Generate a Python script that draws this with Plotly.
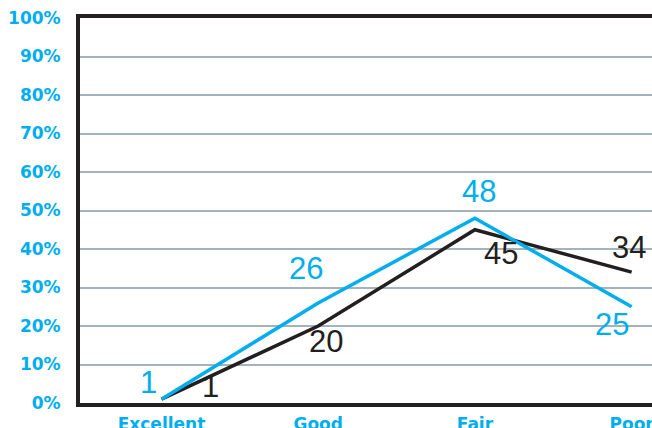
import plotly.graph_objects as go

categories = ["Excellent", "Good", "Fair", "Poor"]
series_blue = [1, 26, 48, 25]
series_black = [1, 20, 45, 34]
y_ticks = [0, 10, 20, 30, 40, 50, 60, 70, 80, 90, 100]
y_tick_labels = [f"{v}%" for v in y_ticks]

BLUE = "#00AEEF"
BLACK = "#231F20"
GRID = "#A3B2BD"
NUM_FONT = "Liberation Sans, Arial, sans-serif"
AX_FONT = "DejaVu Sans, Verdana, sans-serif"

fig = go.Figure()
fig.add_trace(go.Scatter(x=categories, y=series_black, mode="lines",
                         line=dict(color=BLACK, width=3.5), hoverinfo="skip"))
fig.add_trace(go.Scatter(x=categories, y=series_blue, mode="lines",
                         line=dict(color=BLUE, width=3.5), hoverinfo="skip"))

blue_shift = [(-13, 17), (-12, 34), (4, 27), (-20, -18)]
black_shift = [(49, 13), (8, -15), (26, -24), (-3, 25)]
for cat, v, (dx, dy) in zip(categories, series_blue, blue_shift):
    fig.add_annotation(x=cat, y=v, text=str(v), showarrow=False, xshift=dx, yshift=dy,
                       font=dict(family=NUM_FONT, size=31, color=BLUE))
for cat, v, (dx, dy) in zip(categories, series_black, black_shift):
    fig.add_annotation(x=cat, y=v, text=str(v), showarrow=False, xshift=dx, yshift=dy,
                       font=dict(family=NUM_FONT, size=31, color=BLACK))

fig.update_layout(
    width=652, height=428,
    margin=dict(l=80, r=0, t=18, b=25),
    paper_bgcolor="white", plot_bgcolor="white",
    showlegend=False,
    xaxis=dict(range=[-0.52, 3.13], showgrid=False, zeroline=False, automargin=False,
               showline=True, linecolor=BLACK, linewidth=4, mirror=True,
               ticks="", ticklabelstandoff=3,
               tickfont=dict(family=AX_FONT, size=17, color=BLUE, weight="bold")),
    yaxis=dict(range=[0, 100], tickmode="array", tickvals=y_ticks, ticktext=y_tick_labels,
               automargin=False,
               showgrid=True, gridcolor=GRID, gridwidth=1.5, zeroline=False,
               showline=True, linecolor=BLACK, linewidth=4, mirror=False,
               ticks="", ticklabelstandoff=12,
               tickfont=dict(family=AX_FONT, size=17, color=BLUE, weight="bold")),
)

fig.write_html("out.html")
